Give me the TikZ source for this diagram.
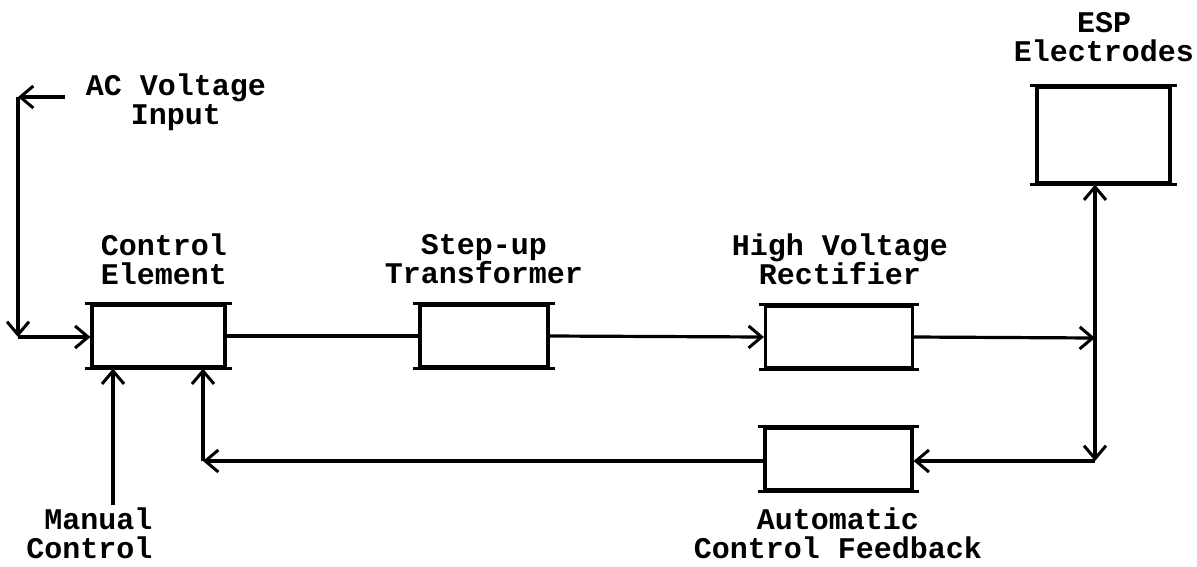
\documentclass[tikz,border=0pt]{standalone}
\usepackage{fontspec}
\setmonofont{Liberation Mono}
\usetikzlibrary{arrows.meta}
\begin{document}
\begin{tikzpicture}[x=1pt,y=-1pt,
  line width=3.2pt,
  arr/.style={-{Straight Barb[length=13pt,width=22pt,line width=3pt]}},
  lbl/.style={font=\ttfamily\bfseries\fontsize{30}{29}\selectfont,align=center,inner sep=0pt},
  blk/.style={draw,line width=3.2pt,inner sep=0pt,minimum width=#1,
    append after command={\pgfextra{
      \draw[line width=3.2pt] ([xshift=-5pt]\tikzlastnode.north west) -- ([xshift=5pt]\tikzlastnode.north east);
      \draw[line width=3.2pt] ([xshift=-5pt]\tikzlastnode.south west) -- ([xshift=5pt]\tikzlastnode.south east);}}},
]
\useasboundingbox (0,0) rectangle (1197,566);
% blocks
\node[blk=133pt,minimum height=62pt] (ce) at (158.5,336) {};
\node[blk=128pt,minimum height=62pt] (st) at (484,336) {};
\node[blk=147pt,minimum height=62pt] (hv) at (839,337) {};
\node[blk=147pt,minimum height=62pt] (acf) at (838.5,459) {};
\node[blk=133pt,minimum height=96pt] (esp) at (1103.5,135) {};
% labels
\node[lbl] (acl) at (176,102) {AC Voltage\\Input};
\node[lbl] (cel) at (164,259) {Control\\Element};
\node[lbl] (stl) at (484,259) {Step-up\\Transformer};
\node[lbl] (hvl) at (840,259) {High Voltage\\Rectifier};
\node[lbl] (espl) at (1104,37) {ESP\\Electrodes};
\node[lbl,align=right,anchor=east] (mcl) at (154,533) {Manual\\Control};
\node[lbl] (acfl) at (838,533) {Automatic\\Control Feedback};
% coordinates
\coordinate (acin) at (65,97);
\coordinate (c1) at (18,97);
\coordinate (c2) at (18,337);
\coordinate (mc) at (113,505);
\coordinate (fb) at (203,461);
\coordinate (r1) at (1095,338);
\coordinate (r2) at (1095,461);
% connectors
\draw[arr] (acin) -- (c1);
\draw[arr] (c1) -- (c2);
\draw[arr] (c2) -- (c2 -| ce.west);
\draw[arr] (mc) -- (mc |- ce.south);
\draw (ce.east) -- (st.west);
\draw[arr] (st.east) -- (hv.west);
\draw[arr] (hv.east) -- (r1);
\draw[arr] (r1) -- (r1 |- esp.south);
\draw[arr] (r1) -- (r2);
\draw[arr] (r2) -- (r2 -| acf.east);
\draw[arr] (acf.west |- fb) -- (fb);
\draw[arr] (fb) -- (fb |- ce.south);
\end{tikzpicture}
\end{document}
